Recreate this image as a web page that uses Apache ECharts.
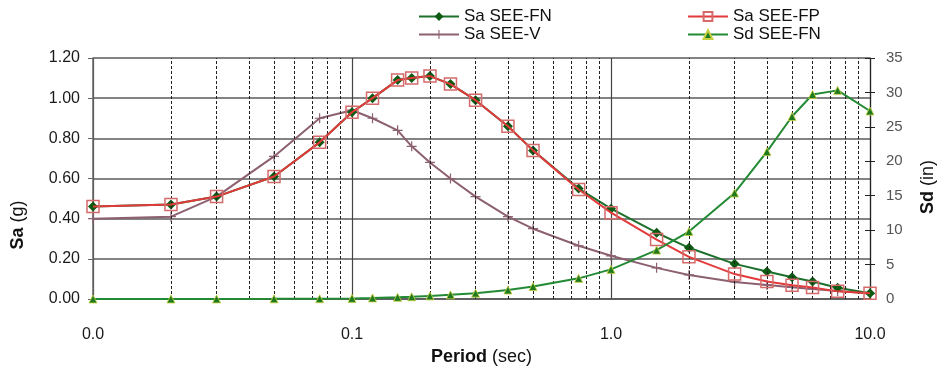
<!DOCTYPE html>
<html>
<head>
<meta charset="utf-8">
<script src="https://cdn.jsdelivr.net/npm/echarts@6/dist/echarts.min.js"></script>
<style>
  html, body { margin: 0; padding: 0; background: #fff; }
  #chart { width: 940px; height: 371px; }
</style>
</head>
<body>
<div id="chart"></div>
<script>
// periods (sec) shared by every series
const periods = [0.01, 0.02, 0.03, 0.05, 0.075, 0.1, 0.12, 0.15, 0.17, 0.2, 0.24, 0.3,
  0.4, 0.5, 0.75, 1.0, 1.5, 2, 3, 4, 5, 6, 7.5, 10]

// spectral acceleration (g)
const saFN = [0.46, 0.47, 0.51, 0.61, 0.78, 0.93, 1.00, 1.09, 1.10, 1.11, 1.07, 0.99,
  0.86, 0.74, 0.55, 0.45, 0.33, 0.255, 0.175, 0.137, 0.108, 0.087, 0.056, 0.029]
const saFP = [0.46, 0.47, 0.51, 0.61, 0.78, 0.93, 1.00, 1.09, 1.10, 1.11, 1.07, 0.99,
  0.86, 0.74, 0.545, 0.43, 0.296, 0.21, 0.124, 0.087, 0.068, 0.057, 0.038, 0.029]
const saV = [0.40, 0.41, 0.51, 0.71, 0.90, 0.94, 0.90, 0.84, 0.76, 0.68, 0.60, 0.51,
  0.41, 0.35, 0.265, 0.215, 0.155, 0.12, 0.085, 0.07, 0.058, 0.05, 0.04, 0.027]

// spectral displacement (in)
const sdFN = [0.0, 0.0, 0.01, 0.02, 0.04, 0.09, 0.15, 0.25, 0.32, 0.45, 0.6, 0.85,
  1.3, 1.8, 3.0, 4.3, 7.1, 9.8, 15.4, 21.4, 26.5, 29.7, 30.3, 27.3]

// dashed minor gridlines of the log axis
const minorPeriods = [0.02, 0.03, 0.04, 0.05, 0.06, 0.07, 0.08, 0.09,
  0.2, 0.3, 0.4, 0.5, 0.6, 0.7, 0.8, 0.9,
  2, 3, 4, 5, 6, 7, 8, 9]

const pairs = (vals) => periods.map((p, i) => [p, vals[i]])

const FONT = 'Liberation Sans, Arial, sans-serif'
const plusPath = 'path://M4.4,0h1.2v10h-1.2z M0,4.4h10v1.2h-10z'

const chart = echarts.init(document.getElementById('chart'))

const option = {
  animation: false,
  textStyle: { fontFamily: FONT },
  grid: { left: 93, right: 70, top: 58, bottom: 62 },
  legend: [
    {
      left: 413, top: 3, orient: 'vertical', itemGap: 1,
      itemWidth: 40, itemHeight: 11,
      textStyle: { fontSize: 17, color: '#111', fontFamily: FONT },
      data: ['Sa SEE-FN', 'Sa SEE-V']
    },
    {
      left: 682, top: 3, orient: 'vertical', itemGap: 1,
      itemWidth: 40, itemHeight: 11,
      textStyle: { fontSize: 17, color: '#111', fontFamily: FONT },
      data: ['Sa SEE-FP', 'Sd SEE-FN']
    }
  ],
  xAxis: {
    type: 'log', logBase: 10, min: 0.01, max: 10,
    axisLine: { lineStyle: { color: '#555', width: 1.5 } },
    axisTick: { show: false },
    axisLabel: {
      fontSize: 16, color: '#1a1a1a', margin: 28,
      formatter: (v) => v.toFixed(1)
    },
    splitLine: { show: true, lineStyle: { color: '#444', width: 1.2 } },
    name: '{b|Period} (sec)',
    nameLocation: 'middle', nameGap: 49,
    nameTextStyle: {
      fontSize: 18, color: '#111',
      rich: { b: { fontSize: 18, fontWeight: 'bold', color: '#111' } }
    }
  },
  yAxis: [
    {
      type: 'value', min: 0, max: 1.2, interval: 0.2,
      axisLine: { show: true, lineStyle: { color: '#666', width: 1.5 } },
      axisTick: { show: true, length: 5, lineStyle: { color: '#666' } },
      axisLabel: { fontSize: 16, color: '#1a1a1a', margin: 13, formatter: (v) => v.toFixed(2) },
      splitLine: { lineStyle: { color: '#5a5a5a', width: 1.5 } }
    },
    {
      type: 'value', min: 0, max: 35, interval: 5, position: 'right',
      axisLine: { show: true, lineStyle: { color: '#222', width: 1.2 } },
      axisTick: { show: true, length: 5, lineStyle: { color: '#222' } },
      axisLabel: { fontSize: 15, color: '#555', margin: 16 },
      splitLine: { show: false }
    },
    {
      type: 'value', min: 0, max: 35, interval: 5, position: 'right',
      axisLine: { show: false },
      axisTick: { show: true, inside: true, length: 5, lineStyle: { color: '#222' } },
      axisLabel: { show: false },
      splitLine: { show: false }
    }
  ],
  graphic: [
    {
      type: 'text', x: 18, y: 225, rotation: Math.PI / 2,
      style: {
        text: '{b|Sa} (g)', fontSize: 18, fill: '#111', fontFamily: FONT,
        align: 'center', verticalAlign: 'middle',
        rich: { b: { fontSize: 18, fontWeight: 'bold', fill: '#111', fontFamily: FONT } }
      }
    },
    {
      type: 'text', x: 928, y: 187, rotation: Math.PI / 2,
      style: {
        text: '{b|Sd} (in)', fontSize: 18, fill: '#111', fontFamily: FONT,
        align: 'center', verticalAlign: 'middle',
        rich: { b: { fontSize: 18, fontWeight: 'bold', fill: '#111', fontFamily: FONT } }
      }
    }
  ],
  series: [
    {
      name: 'minor-grid', type: 'line', data: [], z: 1, silent: true,
      markLine: {
        silent: true, symbol: ['none', 'none'], label: { show: false },
        lineStyle: { type: [3, 2], color: '#222', width: 1 },
        data: minorPeriods.map(p => ({ xAxis: p }))
      }
    },
    {
      name: 'Sa SEE-V', type: 'line', z: 3,
      data: pairs(saV),
      symbol: plusPath, symbolSize: 10,
      lineStyle: { color: '#8c6070', width: 2 },
      itemStyle: { color: '#8c6070' }
    },
    {
      name: 'Sa SEE-FN', type: 'line', z: 4,
      data: pairs(saFN),
      symbol: 'diamond', symbolSize: 10,
      lineStyle: { color: '#1d6f2c', width: 2 },
      itemStyle: { color: '#0d5a12' }
    },
    {
      name: 'Sa SEE-FP', type: 'line', z: 5,
      data: pairs(saFP),
      symbol: 'rect', symbolSize: 12,
      lineStyle: { color: '#e23a3a', width: 2 },
      itemStyle: { color: 'rgba(255,255,255,0)', borderColor: '#d46a6a', borderWidth: 1.5 }
    },
    {
      name: 'Sd SEE-FN', type: 'line', z: 5, yAxisIndex: 1,
      data: pairs(sdFN),
      symbol: 'triangle', symbolSize: 8,
      lineStyle: { color: '#238a34', width: 2 },
      itemStyle: { color: '#1f7a1f', borderColor: '#c8d040', borderWidth: 0.8 }
    }
  ]
}

chart.setOption(option)
</script>
</body>
</html>
